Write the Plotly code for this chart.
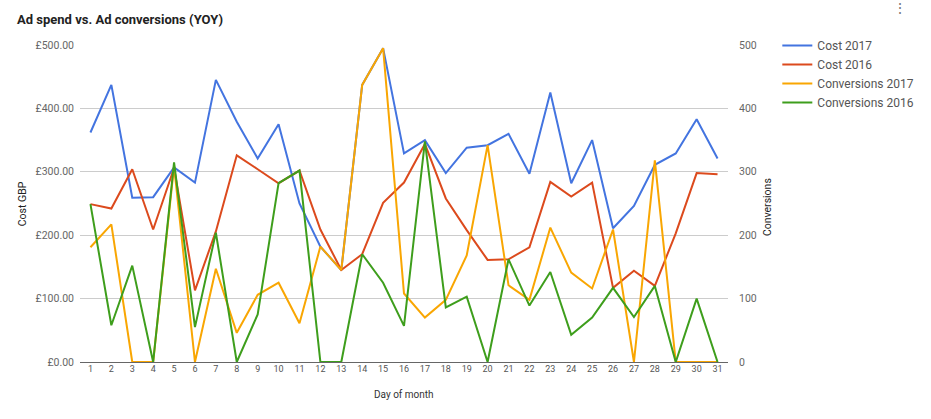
import plotly.graph_objects as go

days = [str(d) for d in range(1, 32)]

cost_2017 = [362, 437, 259, 260, 307, 283, 445, 379, 321, 375,
             250, 182, 145, 437, 495, 329, 350, 298, 338, 342,
             360, 297, 425, 282, 350, 211, 246, 311, 329, 383, 321]
cost_2016 = [249, 242, 304, 209, 306, 113, 206, 326, 304, 282,
             302, 209, 145, 170, 251, 283, 344, 258, 208, 161,
             162, 181, 284, 261, 283, 117, 144, 120, 203, 298, 296]
conv_2017 = [181, 217, 0, 0, 309, 0, 147, 46, 106, 125,
             61, 182, 145, 437, 495, 108, 70, 98, 168, 342,
             121, 98, 212, 141, 116, 209, 0, 318, 0, 0, 0]
conv_2016 = [249, 58, 152, 0, 315, 55, 204, 0, 75, 282,
             302, 0, 0, 170, 125, 57, 348, 86, 103, 0,
             162, 89, 142, 43, 70, 117, 71, 120, 0, 100, 0]

series = [
    ("Cost 2017", cost_2017, "#4374e0", "y"),
    ("Cost 2016", cost_2016, "#dc4a1d", "y"),
    ("Conversions 2017", conv_2017, "#f9a602", "y2"),
    ("Conversions 2016", conv_2016, "#3e9e1c", "y2"),
]

FONT = "Roboto, Arial, sans-serif"
fig = go.Figure()
for name, vals, color, ax in series:
    fig.add_trace(go.Scatter(x=list(range(1, 32)), y=vals, name=name, yaxis=ax,
                             mode="lines", line=dict(color=color, width=2)))

fig.update_layout(
    width=931, height=419,
    margin=dict(l=80, r=194, t=45, b=57),
    paper_bgcolor="white", plot_bgcolor="white",
    font=dict(family=FONT, color="#444"),
    title=dict(text="<b>Ad spend vs. Ad conversions (YOY)</b>", x=17/931, xanchor="left",
               y=1 - 19/419, yanchor="middle", font=dict(size=13, color="#222", family=FONT)),
    xaxis=dict(range=[0.5, 31.5], tickmode="array", tickvals=list(range(1, 32)), ticktext=days,
               showgrid=False, zeroline=False, showline=False, ticks="",
               tickfont=dict(size=9, color="#555"), fixedrange=True),
    yaxis=dict(range=[0, 500], dtick=100, tickprefix="£", tickformat=",.2f",
               gridcolor="#cccccc", gridwidth=1, zeroline=True, zerolinecolor="#666",
               zerolinewidth=1, showline=False, ticks="", ticklabelstandoff=5,
               tickfont=dict(size=10.5, color="#666")),
    yaxis2=dict(range=[0, 500], dtick=100, overlaying="y", side="right", showgrid=False,
                zeroline=False, showline=False, ticks="", ticklabelstandoff=10,
                tickfont=dict(size=10.5, color="#666")),
    legend=dict(x=(787-80)/657, xanchor="left", y=1.0 + 14/317, yanchor="top",
                font=dict(size=12, color="#555", family=FONT), itemwidth=30,
                tracegroupgap=0, bgcolor="rgba(0,0,0,0)"),
    showlegend=True,
)

fig.add_annotation(text="Cost GBP", xref="paper", yref="paper", x=-58/657, y=0.5,
                   xanchor="center", textangle=-90, showarrow=False,
                   font=dict(size=10.5, color="#222"))
fig.add_annotation(text="Conversions", xref="paper", yref="paper", x=(777-80)/657, y=0.49,
                   xanchor="center", textangle=-90, showarrow=False,
                   font=dict(size=10.5, color="#222"))
fig.add_annotation(text="Day of month", xref="paper", yref="paper", x=0.5, y=-32/317,
                   yanchor="middle", showarrow=False, font=dict(size=10, color="#333"))
fig.add_annotation(text="⋮", xref="paper", yref="paper", x=(921-80)/657, y=1 + 37/317,
                   yanchor="middle", showarrow=False, font=dict(size=14, color="#777"))

fig.write_html("out.html")
